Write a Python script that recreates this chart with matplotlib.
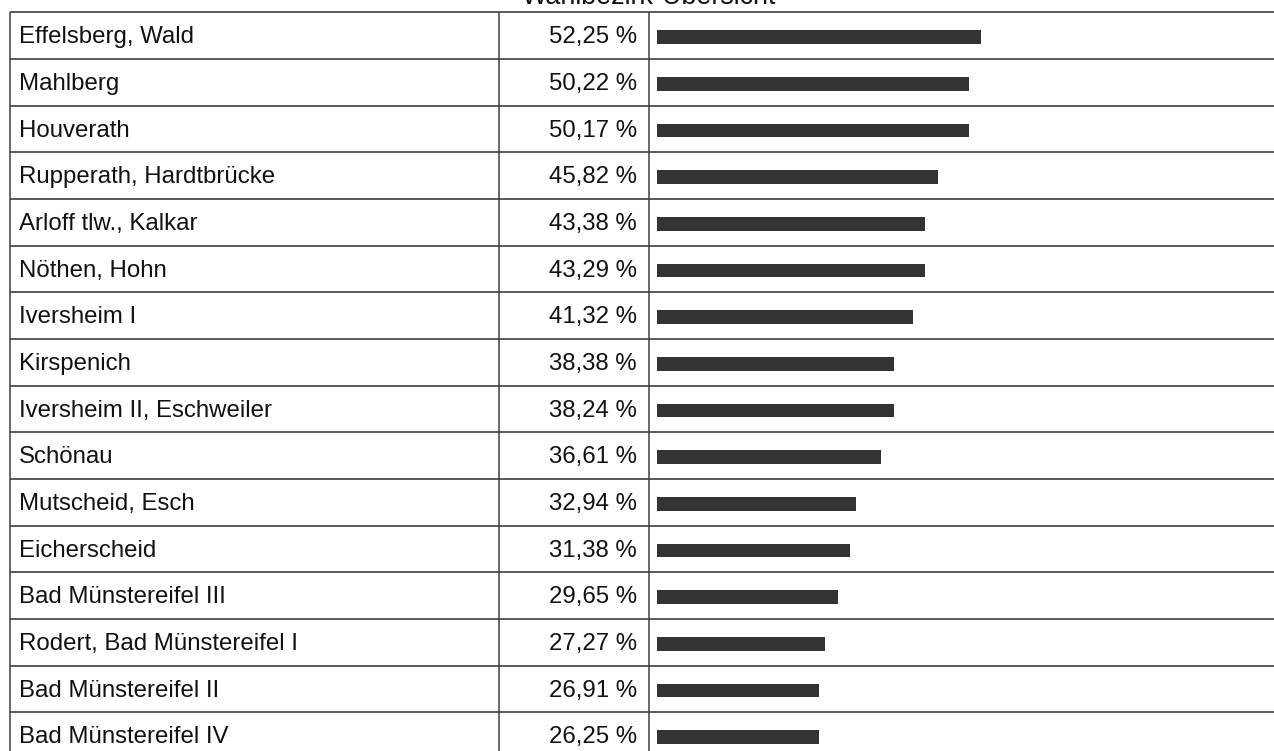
import numpy as np
import matplotlib
matplotlib.use('Agg')
import matplotlib.pyplot as plt
matplotlib.rcParams['font.family'] = ['Liberation Sans', 'DejaVu Sans']

title = "Wahlbezirk-Übersicht"
districts = [
    "Effelsberg, Wald", "Mahlberg", "Houverath", "Rupperath, Hardtbrücke",
    "Arloff tlw., Kalkar", "Nöthen, Hohn", "Iversheim I", "Kirspenich",
    "Iversheim II, Eschweiler", "Schönau", "Mutscheid, Esch", "Eicherscheid",
    "Bad Münstereifel III", "Rodert, Bad Münstereifel I", "Bad Münstereifel II",
    "Bad Münstereifel IV",
]
shares = [52.25, 50.22, 50.17, 45.82, 43.38, 43.29, 41.32, 38.38,
          38.24, 36.61, 32.94, 31.38, 29.65, 27.27, 26.91, 26.25]
# bar lengths as drawn in the picture (whole percent)
bar_pct = [52, 50, 50, 45, 43, 43, 41, 38, 38, 36, 32, 31, 29, 27, 26, 26]

W, H = 1274, 751
fig = plt.figure(figsize=(W / 100, H / 100), dpi=100)

# table layout in pixels
top = 12.3
row_h = 46.67
x_left, x_col1, x_col2 = 9.5, 499, 648.5
bar_x0 = 656.7
px_per_pct = 6.24

y_top = -0.5 - top / row_h
y_bot = (H - top) / row_h - 0.5

ax = fig.add_axes([0, 0, 1, 1])
ax.set_xlim(0, W)
ax.set_ylim(y_bot, y_top)
ax.axis('off')

n = len(districts)
rows = np.arange(n)
line_c = '#5a5a5a'
for r in range(n + 1):
    ax.plot([x_left, W], [r - 0.5, r - 0.5], color=line_c, lw=1.4, solid_capstyle='butt')
for xv in (x_left, x_col1, x_col2):
    ax.plot([xv, xv], [-0.5, n + 0.5], color='#404040', lw=1.1, solid_capstyle='butt')

for r, (name, val) in enumerate(zip(districts, shares)):
    ax.text(19, r + 0.165, name, fontsize=17.3, va='baseline', ha='left', color='#111111')
    ax.text(637, r + 0.165, f"{val:.2f} %".replace('.', ','), fontsize=17.3,
            va='baseline', ha='right', color='#111111')

# title sits mostly above the top edge, as in the original
ax.text(649, y_top + 4.5 / row_h, title, fontsize=19.4,
        va='baseline', ha='center', color='#111111')

# bars
bx = fig.add_axes([bar_x0 / W, 0, (W - bar_x0) / W, 1])
bx.set_xlim(0, (W - bar_x0) / px_per_pct)
bx.set_ylim(y_bot, y_top)
bx.axis('off')
bx.barh(rows + 0.03, bar_pct, height=0.294, color='#333333', left=0)

fig.savefig('out.png', dpi=100)
